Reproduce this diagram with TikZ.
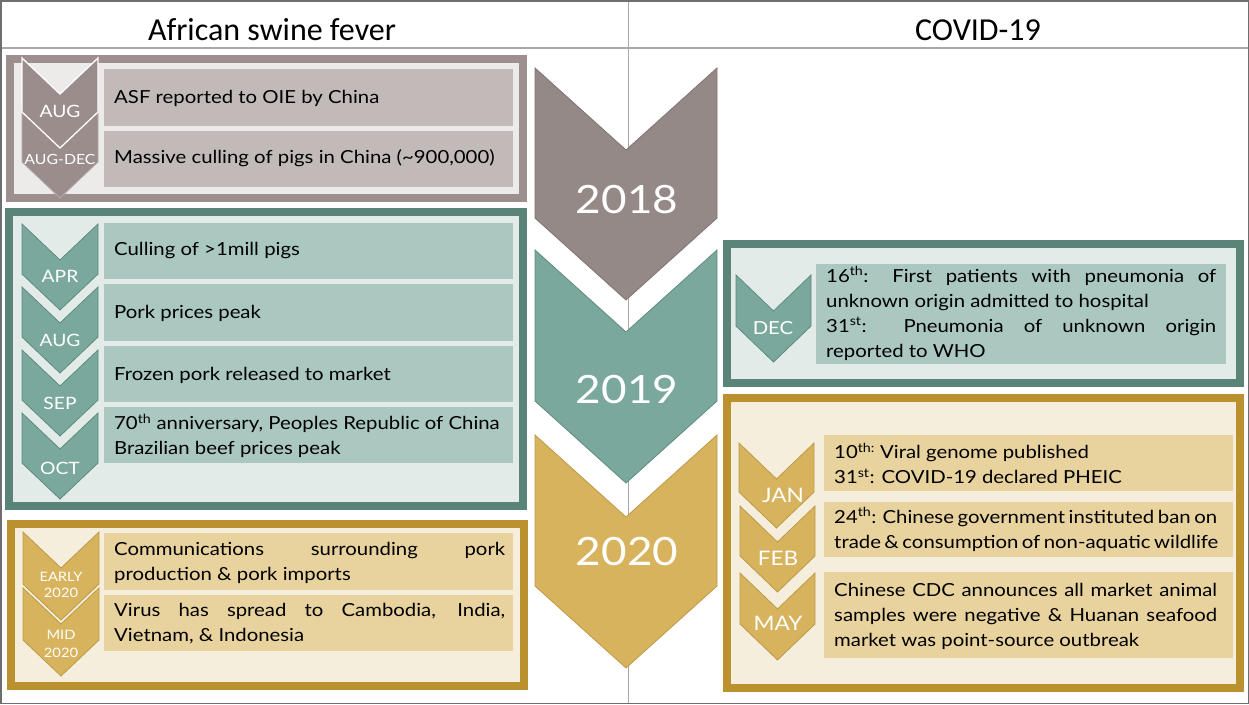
\documentclass[tikz,border=0pt]{standalone}
\usepackage{fontspec}
\setmainfont{Lato}[FakeStretch=1.13]
\newfontfamily\headfont{Carlito}

\definecolor{frameline}{HTML}{6E6E6E}
\definecolor{rule}{HTML}{A8A8A8}
% 2018 palette
\definecolor{greyborder}{HTML}{9C8F8D}
\definecolor{greyinner}{HTML}{EDEAEA}
\definecolor{greybox}{HTML}{C1BAB9}
\definecolor{greychev}{HTML}{9A8D8B}
\definecolor{greychevline}{HTML}{7F7371}
% 2019 palette
\definecolor{tealborder}{HTML}{5B8479}
\definecolor{tealinner}{HTML}{E2EBE8}
\definecolor{tealbox}{HTML}{ABC8C0}
\definecolor{tealchev}{HTML}{7AA89C}
\definecolor{tealchevline}{HTML}{5F8A7F}
% 2020 palette
\definecolor{goldborder}{HTML}{BB912F}
\definecolor{goldinner}{HTML}{F6EEDC}
\definecolor{goldbox}{HTML}{E8D39E}
\definecolor{goldchev}{HTML}{D8B35D}
\definecolor{goldchevline}{HTML}{BE9A48}

% chevron: left x, top y, width, height, notch depth, style
\newcommand\chevshape[6]{%
  \path[#6] (#1,#2) -- ++({#3/2},#5) -- ++({#3/2},{-#5}) -- ++(0,{#4-#5})
    -- ++({-#3/2},#5) -- ++({-#3/2},{-#5}) -- cycle;}
% a line stretched to the full given width
\newcommand\jline[2]{\makebox[#1][s]{#2}}

\tikzset{
  panel/.style={line width=8pt},
  evtext/.style={inner sep=0pt, anchor=west, align=left, text=black,
    font=\fontsize{18}{25}\selectfont},
  monthlbl/.style={inner sep=0pt, text=white, align=center,
    font=\fontsize{17}{19}\selectfont},
  yearlbl/.style={inner sep=0pt, text=white, font=\fontsize{39}{40}\selectfont},
  headlbl/.style={inner sep=0pt, font=\headfont\fontsize{32}{33}\selectfont},
}

\begin{document}
\begin{tikzpicture}[x=1pt,y=-1pt]
\useasboundingbox (0,0) rectangle (1249,704);
\fill[white] (0,0) rectangle (1249,704);

% table frame
\draw[rule, line width=1pt] (628,0) -- (628,704);
\draw[rule, line width=1.5pt] (0,48) -- (1249,48);
\draw[frameline, line width=1.5pt] (0.75,0.75) rectangle (1248.25,703.25);

\node[headlbl] (hasf) at (272,30) {African swine fever};
\node[headlbl] (hcov) at (978,30) {COVID-19};

% ---------------- African swine fever: 2018 ----------------
\draw[panel, draw=greyborder, fill=greyinner] (10,59) rectangle (523,198);
\fill[greybox] (104,69) rectangle (513,126);
\fill[greybox] (104,131) rectangle (513,187);
\chevshape{22}{108}{76}{90}{36}{fill=greychev, draw=greychevline!60!white, line width=0.8pt}
\chevshape{22}{58}{76}{90}{36}{fill=greychev, draw=white, line width=1.3pt}
\node[monthlbl] (a1m) at (60,111) {AUG};
\node[monthlbl, font=\fontsize{14}{16}\selectfont] (a2m) at (60,159) {AUG-DEC};
\node[evtext] (a1t) at (114,98) {ASF reported to OIE by China};
\node[evtext] (a2t) at (114,158) {Massive culling of pigs in China (\char`~900,000)};

% ---------------- African swine fever: 2019 ----------------
\draw[panel, draw=tealborder, fill=tealinner] (9,212) rectangle (523,506);
\fill[tealbox] (104,223) rectangle (513,279);
\fill[tealbox] (104,284) rectangle (513,341);
\fill[tealbox] (104,346) rectangle (513,402);
\fill[tealbox] (104,407) rectangle (513,463);
\foreach \t in {224,287,350,413}
  \chevshape{22}{\t}{76}{86}{36}{fill=tealchev, draw=tealchevline, line width=0.8pt};
\node[monthlbl] (b1m) at (60,276) {APR};
\node[monthlbl] (b2m) at (60,340) {AUG};
\node[monthlbl] (b3m) at (60,403) {SEP};
\node[monthlbl] (b4m) at (60,468) {OCT};
\node[evtext] (b1t) at (114,251) {Culling of >1mill pigs};
\node[evtext] (b2t) at (114,313) {Pork prices peak};
\node[evtext] (b3t) at (114,375) {Frozen pork released to market};
\node[evtext] (b4t) at (114,436) {70\textsuperscript{th} anniversary, Peoples Republic of China\\Brazilian beef prices peak};

% ---------------- African swine fever: 2020 ----------------
\draw[panel, draw=goldborder, fill=goldinner] (11,524) rectangle (524,686);
\fill[goldbox] (104,533) rectangle (513,590);
\fill[goldbox] (104,595) rectangle (513,651);
\chevshape{23}{532}{76}{88}{36}{fill=goldchev, draw=goldchevline, line width=0.8pt}
\chevshape{23}{588}{76}{88}{36}{fill=goldchev, draw=goldchevline, line width=0.8pt}
\node[monthlbl, font=\fontsize{13}{16}\selectfont] (c1m) at (61,585) {EARLY\\2020};
\node[monthlbl, font=\fontsize{13}{17.5}\selectfont] (c2m) at (61,644) {MID\\2020};
\node[evtext] (c1t) at (114,562.5) {\jline{391pt}{Communications surrounding pork}\\production \& pork imports};
\node[evtext] (c2t) at (114,624) {\jline{391pt}{Virus has spread to Cambodia, India,}\\Vietnam, \& Indonesia};

% ---------------- year chevrons ----------------
\chevshape{535}{68}{182}{232}{82}{fill=greychev!97!black, draw=greychevline, line width=0.8pt}
\chevshape{535}{250}{182}{233}{82}{fill=tealchev, draw=tealchevline, line width=0.8pt}
\chevshape{535}{435}{182}{233}{82}{fill=goldchev, draw=goldchevline, line width=0.8pt}
\node[yearlbl] (y18) at (627,200) {2018};
\node[yearlbl] (y19) at (627,390) {2019};
\node[yearlbl] (y20) at (627,552) {2020};

% ---------------- COVID-19: 2019 ----------------
\draw[panel, draw=tealborder, fill=tealinner] (727,244) rectangle (1240,383);
\fill[tealbox] (816,264) rectangle (1226,364);
\chevshape{736}{275}{75}{87}{36}{fill=tealchev, draw=tealchevline, line width=0.8pt}
\node[monthlbl, font=\fontsize{18}{20}\selectfont] (d1m) at (773,328) {DEC};
\node[evtext] (d1t) at (826,313.5) {\jline{390pt}{16\textsuperscript{th}: First patients with pneumonia of}\\unknown origin admitted to hospital\\\jline{390pt}{31\textsuperscript{st}: Pneumonia of unknown origin}\\reported to WHO};

% ---------------- COVID-19: 2020 ----------------
\draw[panel, draw=goldborder, fill=goldinner] (727,398) rectangle (1240,688);
\fill[goldbox] (824,435) rectangle (1233,491);
\fill[goldbox] (824,502) rectangle (1233,557);
\fill[goldbox] (824,572) rectangle (1233,658);
\chevshape{739}{443}{75}{85}{36}{fill=goldchev, draw=goldchevline, line width=0.8pt}
\chevshape{740}{506}{75}{86}{36}{fill=goldchev, draw=goldchevline, line width=0.8pt}
\chevshape{740}{573}{75}{87}{36}{fill=goldchev, draw=goldchevline, line width=0.8pt}
\node[monthlbl, font=\fontsize{20}{22}\selectfont] (e1m) at (783,495) {JAN};
\node[monthlbl, font=\fontsize{20}{22}\selectfont] (e2m) at (778,558) {FEB};
\node[monthlbl, font=\fontsize{20}{22}\selectfont] (e3m) at (778,623) {MAY};
\node[evtext] (e1t) at (834,463.5) {10\textsuperscript{th:} Viral genome published\\31\textsuperscript{st}: COVID-19 declared PHEIC};
\node[evtext] (e2t) at (834,529.5) {\jline{383pt}{24\textsuperscript{th}: Chinese government instituted ban on}\\\jline{383pt}{trade \& consumption of non-aquatic wildlife}};
\node[evtext] (e3t) at (834,616) {\jline{383pt}{Chinese CDC announces all market animal}\\\jline{383pt}{samples were negative \& Huanan seafood}\\market was point-source outbreak};
\end{tikzpicture}
\end{document}
